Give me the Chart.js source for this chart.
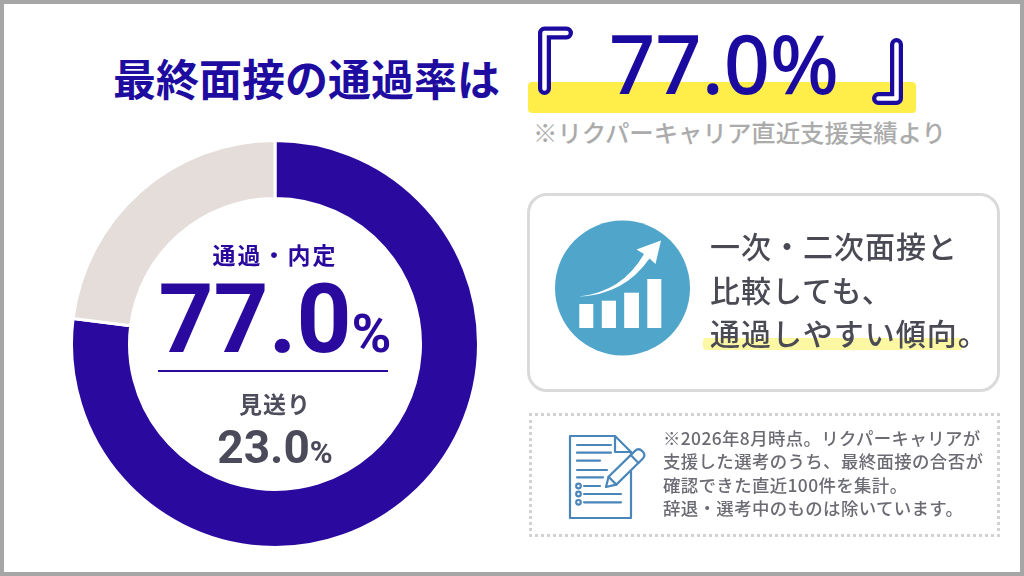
<!DOCTYPE html>
<html lang="ja">
<head>
<meta charset="utf-8">
<title>最終面接の通過率</title>
<script src="https://cdn.jsdelivr.net/npm/chart.js@4/dist/chart.umd.min.js"></script>
<style>
  html, body { margin: 0; padding: 0; background: #fff; }
  #stage {
    position: relative; width: 1024px; height: 576px; overflow: hidden;
    background: #fff; outline: 4px solid #a6a6a6; outline-offset: -4px;
    font-family: "Noto Sans CJK JP", "Noto Sans", sans-serif;
  }
  .abs { position: absolute; white-space: nowrap; }
  #title { left: 113px; top: 56px; font-size: 43px; line-height: 43px; font-weight: 700; color: #1e0ca0; }
  #band { left: 528px; top: 82px; width: 388px; height: 31px; background: #ffee4a; border-radius: 4px; }
  #bigRate { left: 609px; top: 22px; font-family: "Noto Sans", sans-serif; font-size: 81px; line-height: 81px; font-weight: 500; color: #1a0aa0; }
  #source { left: 533px; top: 120px; font-size: 24.4px; line-height: 24px; font-weight: 500; color: #ababab; }

  #chartBox { left: 70px; top: 139px; width: 410px; height: 410px; }
  .center { left: 75px; width: 400px; text-align: center; }
  #passLabel { top: 243px; font-size: 23px; line-height: 23px; font-weight: 700; color: #2a0a9e; letter-spacing: 2px; }
  #passRate { top: 271px; font-family: Roboto, sans-serif; font-size: 96px; line-height: 96px; font-weight: 700; color: #2a0a9e; }
  #passRate span { font-size: 54px; }
  #divider { left: 158px; top: 370px; width: 230px; height: 2px; background: #2a0a9e; }
  #failLabel { top: 392px; font-size: 23px; line-height: 23px; font-weight: 700; color: #4d4d5c; letter-spacing: 1px; }
  #failRate { top: 424px; font-family: Roboto, sans-serif; font-size: 46px; line-height: 46px; font-weight: 700; color: #4a4a5a; }
  #failRate span { font-size: 31px; }

  #infoBox { left: 527px; top: 193px; width: 473px; height: 199px; box-sizing: border-box; border: 3px solid #dadada; border-radius: 20px; background: #fff; }
  #hl { left: 703px; top: 338px; width: 260px; height: 12px; background: #fcf7a3; border-radius: 3px; }
  #infoText { left: 710px; top: 224px; font-size: 30px; line-height: 43.5px; font-weight: 500; color: #4a4a55; letter-spacing: 1px; }

  #noteBox { left: 529px; top: 413px; width: 471px; height: 124px; box-sizing: border-box; border: 3px dotted #d2d2d2; }
  #noteText { left: 663px; top: 426px; font-size: 17.4px; line-height: 23.3px; font-weight: 500; color: #6b6b73; letter-spacing: 0.4px; }
  svg.abs { overflow: visible; }
</style>
</head>
<body>
<div id="stage">
  <div class="abs" id="title">最終面接の通過率は</div>
  <div class="abs" id="band"></div>
  <svg class="abs" style="left:0;top:0" width="1024" height="130" fill="none" stroke-linecap="round" stroke-linejoin="round">
    <path d="M566.5,33 L544.5,33 L544.5,88.5" stroke="#1a0aa0" stroke-width="13"/>
    <path d="M566.5,33 L544.5,33 L544.5,88.5" stroke="#ffffff" stroke-width="4.5"/>
    <path d="M878.5,98.5 L896.5,98.5 L896.5,44.5" stroke="#1a0aa0" stroke-width="13"/>
    <path d="M878.5,98.5 L896.5,98.5 L896.5,44.5" stroke="#ffffff" stroke-width="4.5"/>
  </svg>
  <div class="abs" id="bigRate"></div>
  <div class="abs" id="source">※リクパーキャリア直近支援実績より</div>

  <div class="abs" id="chartBox"><canvas id="donut"></canvas></div>
  <div class="abs center" id="passLabel"></div>
  <div class="abs center" id="passRate"></div>
  <div class="abs" id="divider"></div>
  <div class="abs center" id="failLabel"></div>
  <div class="abs center" id="failRate"></div>

  <div class="abs" id="infoBox"></div>
  <svg class="abs" style="left:0;top:0" width="1024" height="576">
    <circle cx="622.5" cy="288" r="67.5" fill="#50a5cb"/>
    <rect x="579.3" y="304" width="14" height="24" fill="#fff"/>
    <rect x="601.8" y="300.7" width="14.2" height="27.3" fill="#fff"/>
    <rect x="624.2" y="292.7" width="14.8" height="35.3" fill="#fff"/>
    <rect x="647.3" y="279" width="14" height="49" fill="#fff"/>
    <path d="M579,296.5 Q622,292 644,254 L636.5,249.5 L661,240.5 L655.5,264 L649.5,258.5 Q624,295 579,296.5 Z" fill="#fff"/>
  </svg>
  <div class="abs" id="hl"></div>
  <div class="abs" id="infoText">一次・二次面接と<br>比較しても、<br>通過しやすい傾向。</div>

  <div class="abs" id="noteBox"></div>
  <svg class="abs" style="left:0;top:0" width="1024" height="576" fill="none" stroke="#4a86ba" stroke-width="2.2" stroke-linecap="round" stroke-linejoin="round">
    <path d="M570,436 L615,436 L631,452 L631,518 L570,518 Z"/>
    <path d="M615,436 L615,452 L631,452"/>
    <line x1="577" y1="445" x2="611" y2="445"/>
    <line x1="577" y1="452.7" x2="611" y2="452.7"/>
    <line x1="577" y1="460.7" x2="600" y2="460.7"/>
    <line x1="577" y1="470" x2="607" y2="470"/>
    <line x1="577" y1="477.3" x2="603" y2="477.3"/>
    <circle cx="578.5" cy="486" r="2.3"/>
    <circle cx="578.5" cy="494" r="2.3"/>
    <circle cx="578.5" cy="502.3" r="2.3"/>
    <line x1="584" y1="486" x2="600" y2="486"/>
    <line x1="584" y1="494" x2="621" y2="494"/>
    <line x1="584" y1="502.3" x2="621" y2="502.3"/>
    <g transform="translate(606,487) rotate(-44.4)">
      <path d="M0,0 L9,-5.5 L46,-5.5 Q51,-5.5 51,0 Q51,5.5 46,5.5 L9,5.5 Z" fill="#fff"/>
      <line x1="9" y1="-5.5" x2="9" y2="5.5"/>
      <line x1="40" y1="-5.5" x2="40" y2="5.5"/>
    </g>
  </svg>
  <div class="abs" id="noteText">※2026年8月時点。リクパーキャリアが<br>支援した選考のうち、最終面接の合否が<br>確認できた直近100件を集計。<br>辞退・選考中のものは除いています。</div>
</div>

<script>
const segmentLabels = ['通過・内定', '見送り'];
const segmentValues = [77.0, 23.0];

const segmentColors = ['#2a0a9e', '#e4ddd9'];

const pct = v => v.toFixed(1);

document.getElementById('bigRate').textContent = ' ' + pct(segmentValues[0]) + '%';
document.getElementById('passLabel').textContent = segmentLabels[0];
document.getElementById('passRate').innerHTML = pct(segmentValues[0]) + '<span>%</span>';
document.getElementById('failLabel').textContent = segmentLabels[1];
document.getElementById('failRate').innerHTML = pct(segmentValues[1]) + '<span>%</span>';

const ctx = document.getElementById('donut').getContext('2d');
new Chart(ctx, {
  type: 'doughnut',
  data: {
    labels: segmentLabels,
    datasets: [{
      data: segmentValues,
      backgroundColor: segmentColors,
      borderColor: '#ffffff',
      borderWidth: 3,
      hoverOffset: 0
    }]
  },
  options: {
    responsive: true,
    maintainAspectRatio: false,
    animation: false,
    cutout: '71.5%',
    layout: { padding: 0 },
    plugins: {
      legend: { display: false },
      tooltip: { enabled: false }
    }
  }
});
</script>
</body>
</html>
